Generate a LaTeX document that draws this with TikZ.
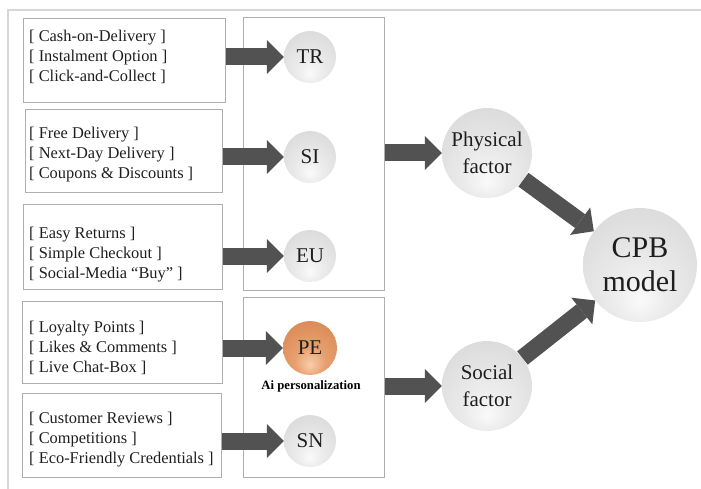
\documentclass[tikz,border=0pt]{standalone}
\usepackage{fontspec}
\setmainfont{Liberation Serif}
\usetikzlibrary{arrows.meta}
\definecolor{arr}{RGB}{82,82,82}
\definecolor{boxline}{RGB}{175,175,175}
\definecolor{frameline}{RGB}{215,215,215}
\definecolor{txt}{RGB}{30,30,30}
\definecolor{peA}{RGB}{248,205,170}
\definecolor{peB}{RGB}{232,160,112}
\definecolor{peC}{RGB}{214,132,78}
\definecolor{peD}{RGB}{190,108,58}
\pgfdeclareradialshading{greysphere}{\pgfpoint{0bp}{-16bp}}{color(0bp)=(gray!4); color(12bp)=(gray!15); color(30bp)=(gray!26); color(50bp)=(gray!36); color(66bp)=(gray!52)}
\pgfdeclareradialshading{orangesphere}{\pgfpoint{0bp}{-16bp}}{color(0bp)=(peA); color(14bp)=(peB); color(40bp)=(peC); color(66bp)=(peD)}
\tikzset{
  lbox/.style={draw=boxline, line width=1pt, rectangle, inner sep=0pt},
  mbox/.style={draw=boxline, line width=1pt, rectangle, inner sep=0pt},
  ltext/.style={anchor=west, align=left, inner sep=0pt, text=txt, font=\fontsize{16.4}{20}\selectfont},
  sph/.style={circle, inner sep=0pt, shading=greysphere, text=txt, align=center, font=\fontsize{21}{27}\selectfont},
  osph/.style={circle, inner sep=0pt, shading=orangesphere, text=txt, align=center, font=\fontsize{21}{27}\selectfont},
  bigarrow/.style={draw=arr, line width=17pt, -{Triangle[length=17pt 0 0,width=34pt 0 0,line width=0pt]}},
}
\begin{document}
\begin{tikzpicture}[x=1pt,y=-1pt]
\useasboundingbox (0,0) rectangle (701,489);
\draw[frameline, line width=2pt] (8,489) -- (8,10) -- (701,10);
% left boxes
\node[lbox, minimum width=202, minimum height=84] (b1) at (124,61) {};
\node[lbox, minimum width=197, minimum height=83] (b2) at (123.5,151.5) {};
\node[lbox, minimum width=199, minimum height=84] (b3) at (122.5,247) {};
\node[lbox, minimum width=200, minimum height=82] (b4) at (122,342) {};
\node[lbox, minimum width=199, minimum height=84] (b5) at (121.5,435) {};
\node[ltext] (t1) at (29,57) {{[} Cash-on-Delivery ]\\{[} Instalment Option ]\\{[} Click-and-Collect ]};
\node[ltext] (t2) at (29,155) {{[} Free Delivery ]\\{[} Next-Day Delivery ]\\{[} Coupons \& Discounts ]};
\node[ltext] (t3) at (29,255) {{[} Easy Returns ]\\{[} Simple Checkout ]\\{[} Social-Media “Buy” ]};
\node[ltext] (t4) at (29,348) {{[} Loyalty Points ]\\{[} Likes \& Comments ]\\{[} Live Chat-Box ]};
\node[ltext] (t5) at (29,440) {{[} Customer Reviews ]\\{[} Competitions ]\\{[} Eco-Friendly Credentials ]};
% middle boxes
\node[mbox, minimum width=141, minimum height=272] (m1) at (313.5,154) {};
\node[mbox, minimum width=141, minimum height=180] (m2) at (313.5,387) {};
% small spheres
\node[sph, minimum size=52] (TR) at (310,57) {TR};
\node[sph, minimum size=52] (SI) at (310,157) {SI};
\node[sph, minimum size=52] (EU) at (310,256) {EU};
\node[osph, minimum size=54] (PE) at (310,348) {PE};
\node[sph, minimum size=52] (SN) at (310,441) {SN};
\node[inner sep=0pt, text=black, font=\bfseries\fontsize{12.7}{15}\selectfont] (ai) at (311,386) {Ai personalization};
% factor spheres
\node[sph, minimum size=90] (phys) at (487,153) {Physical\\factor};
\node[sph, minimum size=90] (soc) at (487,386) {Social\\factor};
\node[sph, minimum size=114, font=\fontsize{30}{34}\selectfont] (cpb) at (640,265) {CPB\\model};
% arrows
\draw[bigarrow] (b1.east |- TR.west) -- (TR.west);
\draw[bigarrow] (b2.east |- SI.west) -- (SI.west);
\draw[bigarrow] (b3.east |- EU.west) -- (EU.west);
\draw[bigarrow] (b4.east |- PE.west) -- (PE.west);
\draw[bigarrow] (b5.east |- SN.west) -- (SN.west);
\draw[bigarrow] (m1.east |- phys.west) -- (phys.west);
\draw[bigarrow] (m2.east |- soc.west) -- (soc.west);
\draw[bigarrow] (phys) -- (cpb);
\draw[bigarrow] (soc) -- (cpb);
\end{tikzpicture}
\end{document}
